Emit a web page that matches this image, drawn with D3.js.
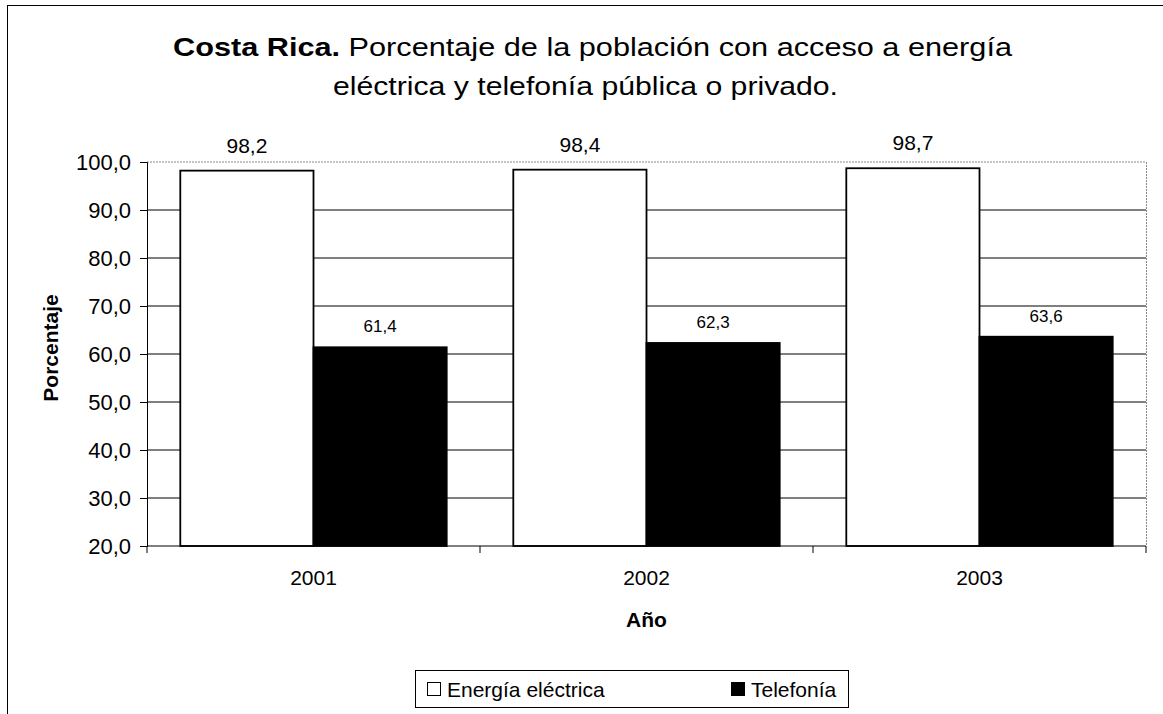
<!DOCTYPE html>
<html><head><meta charset="utf-8">
<script src="https://cdn.jsdelivr.net/npm/d3@7"></script>
<style>body{margin:0;background:#fff;} svg{display:block;font-family:"Liberation Sans",Arial,sans-serif;}</style>
</head><body>
<svg id="c" width="1163" height="714"></svg>
<script>
const years = ["2001","2002","2003"];
const seriesNames = ["Energía eléctrica","Telefonía"];
const energia = [98.2, 98.4, 98.7];
const telefonia = [61.4, 62.3, 63.6];
const yTicks = [20,30,40,50,60,70,80,90,100];

const svg = d3.select("#c");
const L = 147, R = 1146, T = 162, B = 546;
const fmt = v => d3.format(".1f")(v).replace(".", ",");

// outer frame
svg.append("rect").attr("x",7.5).attr("y",5.5).attr("width",1170).attr("height",720)
  .attr("fill","none").attr("stroke","#000").attr("stroke-width",1);

const x = d3.scaleBand().domain(years).range([L,R]).paddingInner(0.2).paddingOuter(0.1);
const x1 = d3.scaleBand().domain(seriesNames).range([0,x.bandwidth()]);
const y = d3.scaleLinear().domain([20,100]).range([B,T]);

// gridlines
svg.append("g").selectAll("line").data(yTicks.filter(d=>d>20)).join("line")
  .attr("x1",L).attr("x2",R).attr("y1",d=>y(d)).attr("y2",d=>y(d))
  .attr("stroke",d=>d===100?"#888":"#000").attr("stroke-width",1)
  .attr("stroke-dasharray",d=>d===100?"2,1":null);
svg.append("line").attr("x1",R+0.5).attr("x2",R+0.5).attr("y1",T).attr("y2",B)
  .attr("stroke","#888").attr("stroke-dasharray","2,1");

// bars
const data = years.map((yr,i)=>({yr, vals:[energia[i], telefonia[i]]}));
const g = svg.append("g").selectAll("g").data(data).join("g")
  .attr("transform",d=>`translate(${x(d.yr)},0)`);
g.selectAll("rect").data(d=>d.vals.map((v,j)=>({v,s:seriesNames[j]}))).join("rect")
  .attr("x",d=>x1(d.s)).attr("width",x1.bandwidth())
  .attr("y",d=>y(d.v)).attr("height",d=>B-y(d.v))
  .attr("fill",d=>d.s===seriesNames[0]?"#fff":"#000")
  .attr("stroke","#000").attr("stroke-width",1.8);
g.selectAll("text").data(d=>d.vals.map((v,j)=>({v,s:seriesNames[j]}))).join("text")
  .attr("x",d=>x1(d.s)+x1.bandwidth()/2)
  .attr("y",d=>y(d.v)-(d.s===seriesNames[0]?18:15))
  .attr("text-anchor","middle")
  .attr("font-size",d=>d.s===seriesNames[0]?21:17)
  .text(d=>fmt(d.v));

// y axis
const ya = svg.append("g").attr("transform",`translate(${L},0)`)
  .call(d3.axisLeft(y).tickValues(yTicks).tickFormat(fmt).tickSize(7).tickPadding(9));
ya.select(".domain").attr("stroke","#000");
ya.selectAll("text").attr("font-size",22).attr("font-family","Liberation Sans, Arial, sans-serif").attr("fill","#000");

// x axis
const xa = svg.append("g").attr("transform",`translate(0,${B})`);
xa.append("line").attr("x1",L).attr("x2",R).attr("y1",0).attr("y2",0).attr("stroke","#000");
const xb = d3.range(years.length+1).map(i=>L+(R-L)*i/years.length);
xa.selectAll("line.t").data(xb).join("line").attr("class","t")
  .attr("x1",d=>d).attr("x2",d=>d).attr("y1",0).attr("y2",7).attr("stroke","#000");
xa.selectAll("text").data(years).join("text")
  .attr("x",d=>x(d)+x.bandwidth()/2).attr("y",39)
  .attr("text-anchor","middle").attr("font-size",21).text(d=>d);

// axis titles
svg.append("text").attr("x",x(years[1])+x.bandwidth()/2).attr("y",627)
  .attr("text-anchor","middle").attr("font-size",21).attr("font-weight","bold").text("Año");
svg.append("text").attr("transform","translate(58,348) rotate(-90)")
  .attr("text-anchor","middle").attr("font-size",21).attr("font-weight","bold").text("Porcentaje");

// title
const t1 = svg.append("text").attr("x",173).attr("y",56).attr("font-size",25)
  .attr("textLength",839).attr("lengthAdjust","spacingAndGlyphs");
t1.append("tspan").attr("font-weight","bold").text("Costa Rica.");
t1.append("tspan").text(" Porcentaje de la población con acceso a energía");
svg.append("text").attr("x",333).attr("y",95).attr("font-size",25)
  .attr("textLength",505).attr("lengthAdjust","spacingAndGlyphs")
  .text("eléctrica y telefonía pública o privado.");

// legend
const lg = svg.append("g");
lg.append("rect").attr("x",415.5).attr("y",670.5).attr("width",433).attr("height",37)
  .attr("fill","#fff").attr("stroke","#000");
const items = [{s:seriesNames[0],fill:"#fff",x:427,tx:447},{s:seriesNames[1],fill:"#000",x:731,tx:751}];
lg.selectAll("rect.k").data(items).join("rect").attr("class","k")
  .attr("x",d=>d.x+0.5).attr("y",682.5).attr("width",13).attr("height",13)
  .attr("fill",d=>d.fill).attr("stroke","#000");
lg.selectAll("text").data(items).join("text")
  .attr("x",d=>d.tx).attr("y",697).attr("font-size",21).text(d=>d.s);
</script>
</body></html>
